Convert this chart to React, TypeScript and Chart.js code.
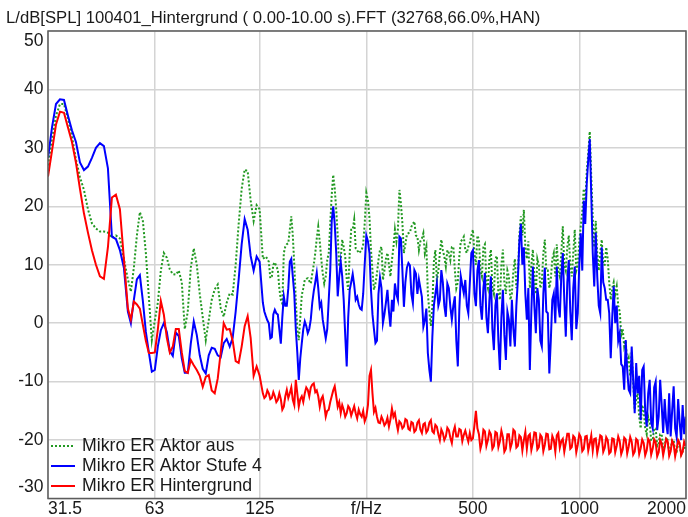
import React, { useEffect, useRef } from 'react';
import { Chart, registerables } from 'chart.js';

Chart.register(...registerables);

const TITLE = 'L/dB[SPL] 100401_Hintergrund ( 0.00-10.00 s).FFT (32768,66.0%,HAN)';
const SERIES_NAMES = ['Mikro ER Aktor aus', 'Mikro ER Aktor Stufe 4', 'Mikro ER Hintergrund'];
const SERIES_COLORS = ['#229922', '#0000ff', '#ff0000'];

const X_TICKS = [31.5, 63, 125, 250, 500, 1000, 2000];
const X_TICK_LABELS = ['31.5', '63', '125', 'f/Hz', '500', '1000', '2000'];
const Y_TICKS = [50, 40, 30, 20, 10, 0, -10, -20, -30];

// frequency (Hz)
const FREQ_HZ = [
  31.5, 32.33, 33.18, 34.05, 34.95, 35.87, 36.81, 37.78, 38.78, 39.8, 40.85, 41.92, 43.03, 44.16, 45.32, 46.52, 47.74, 49.0, 50.29, 51.61, 52.97,
  54.01, 55.07, 56.16, 57.26, 58.39, 59.54, 60.71, 61.9, 63.12, 64.36, 65.63, 66.92, 68.24, 69.58, 70.95, 72.35, 73.77, 75.22, 76.7, 78.21,
  79.75, 81.32, 82.92, 84.55, 86.21, 87.91, 89.64, 91.4, 93.2, 95.03, 96.9, 98.81, 100.75, 102.73, 104.75, 106.81, 108.91, 111.05, 113.24, 115.47,
  117.74, 120.05, 122.41, 124.82,
  127.46, 128.71, 129.97, 131.24, 132.52, 133.82, 135.13, 136.45, 137.79, 139.14,
  140.5, 141.88, 143.27, 144.67, 146.09, 147.52, 148.96, 150.42, 151.89, 153.38,
  154.88, 156.4, 157.93, 159.48, 161.04, 162.62, 164.21, 165.82, 167.44, 169.08,
  170.73, 172.4, 174.09, 175.79, 177.52, 179.26, 181.01, 182.78, 184.57, 186.38,
  188.2, 190.04, 191.91, 193.79, 195.68, 197.6, 199.53, 201.48, 203.46, 205.45,
  207.46, 209.49, 211.55, 213.62, 215.71, 217.82, 219.96, 222.11, 224.28, 226.48,
  228.7, 230.94, 233.2, 235.48, 237.79, 240.12, 242.47, 244.84, 247.24, 249.9,
  252.6, 255.1, 257.6, 260.1, 262.6, 265.2, 267.8, 270.4, 273.1, 275.8,
  278.4, 281.1, 283.9, 286.7, 289.5, 292.3, 295.2, 298.1, 301.0, 303.9,
  306.9, 309.9, 312.9, 316.0, 319.1, 322.2, 325.4, 328.6, 331.8, 335.0,
  338.3, 341.6, 345.0, 348.4, 351.8, 355.2, 358.7, 362.2, 365.7, 369.3,
  372.9, 376.6, 380.3, 384.0, 387.8, 391.6, 395.4, 399.3, 403.2, 407.1,
  411.1, 415.1, 419.2, 423.3, 427.5, 431.7, 435.9, 440.2, 444.5, 448.8,
  453.2, 457.6, 462.1, 466.6, 471.2, 475.8, 480.5, 485.2, 489.9, 494.9,
  500, 504.9, 509.8, 514.8, 519.9, 525.0, 530.1, 535.3, 540.5, 545.8,
  551.2, 556.6, 562.0, 567.5, 573.1, 578.7, 584.4, 590.1, 595.9, 601.7,
  607.6, 613.5, 619.6, 625.7, 631.8, 638.0, 644.2, 650.5, 656.9, 663.3,
  669.8, 676.4, 683.0, 689.7, 696.4, 703.2, 710.1, 717.1, 724.1, 731.2,
  738.4, 745.6, 752.9, 760.3, 767.7, 775.2, 782.8, 790.5, 798.2, 806.0,
  813.9, 821.9, 829.9, 838.0, 846.3, 854.6, 862.9, 871.3, 879.9, 888.5,
  897.2, 906.0, 914.9, 923.9, 932.9, 942.0, 951.2, 960.5, 969.9, 979.4,
  989.0, 998.7, 1008.5, 1018.4, 1028.4, 1038.5, 1048.6, 1058.9, 1069.3, 1079.8,
  1090.3, 1101.0, 1111.8, 1122.7, 1133.7, 1144.8, 1156.0, 1167.3, 1178.7, 1190.2,
  1201.9, 1213.7, 1225.6, 1237.6, 1249.7, 1261.9, 1274.3, 1286.8, 1299.4, 1312.1,
  1325.0, 1338.0, 1351.0, 1364.2, 1377.6, 1391.1, 1404.7, 1418.5, 1432.4, 1446.4,
  1460.6, 1474.9, 1489.4, 1504.0, 1518.7, 1533.6, 1548.6, 1563.8, 1579.1, 1594.6,
  1610.2, 1626.0, 1641.9, 1658.0, 1674.2, 1690.6, 1707.2, 1723.9, 1740.8, 1757.8,
  1775.1, 1792.5, 1810.0, 1827.7, 1845.7, 1863.8, 1882.0, 1900.4, 1919.1, 1937.9,
  1956.9, 1976.1, 1995.4,
];

// L/dB — Mikro ER Aktor aus (green, dotted)
const AKTOR_AUS = [
  27, 31.5, 35.5, 37.5, 37.5, 35, 32, 28, 25, 22.8, 19.5, 17.1, 16.2, 15.7, 15.7, 15.5, 14.6, 15, 14.5, 11, 7.5,
  5.4, 9.5, 15, 19, 17.5, 12, 4.5, -2.9, 0.5, 3.5, 9, 12, 11.2, 9.2, 8.4, 8.3, 9, 7, -1, 2,
  9.5, 12.8, 10, 5, 1, -2.9, 0.5, 4, 5.8, 6.6, 2.6, 1.1, 3.5, 5.1, 4.9, 10, 17, 23, 26.3, 26,
  21, 17.5, 20.2, 19.5,
  11, 11.2, 11.4, 11, 10.5, 7.7, 8, 10, 10.4, 9.7,
  9.2, 6, 4, 3.4, 12, 13.1, 13.5, 13.7, 16, 18.3,
  15, 10, 4, -1, -2.9, 1, 4.8, 6, 7.4, 7.6,
  7.7, 7.2, 6.8, 8.5, 10, 12, 14.5, 16.5, 14, 11,
  8.5, 6.8, 8, 10.8, 12, 17, 22, 25.4, 23, 19.4,
  15, 9.7, 11, 14.3, 13, 11.4, 7.5, 5.7, 12, 16,
  16, 17.7, 12.8, 12.5, 12, 12.2, 12.5, 13.5, 17, 22.3,
  21, 18, 12.5, 9, 5.7, 6.8, 8.5, 10.8, 12.5, 13.1,
  7.4, 9, 11, 12, 10, 8, 10.8, 13, 16, 14,
  16, 22.8, 20.5, 17.1, 12, 13.5, 15.2, 15.4, 15.5, 16.5,
  17, 17.4, 15, 14.8, 12.5, 14, 14.5, 15.4, 12, 13.1,
  5.1, 2, -0.5, 3, 10.5, 12.5, 7.4, 9, 12, 14.3,
  12.5, 11.4, 9.7, 12.5, 12, 10.8, 13, 13.1, 9.1, 6,
  7, 11.4, 14, 14.3, 14.8, 12.5, 12, 13.1, 13.7, 15,
  16, 12, 10, 15, 14.3, 9, 8, 13, 13.5, 7,
  6, 11, 12.6, 6, 5, 11, 11.5, 5, 4, 10,
  12.6, 7, 5, 9, 8, 4, 5.1, 9, 11, 6,
  8, 15, 18.3, 15, 19.4, 13, 11, 14, 6, 10,
  12.6, 8, 5, 11, 10, 6, 7, 12, 14.3, 9,
  9, 6, 7.5, 11, 12, 8, 13.5, 9, 8, 12,
  16.6, 10, 9, 13, 15, 10, 8, 12, 16, 9,
  10, 14, 16.6, 19, 23, 20, 26, 29, 32.8, 25,
  18, 13, 17.5, 12, 9, 12, 14.3, 10, 10, 13,
  11, 7, 4, 6, 7, 5, 6.3, 3, 2, -2,
  -1, -4, -3, -7, -6, -9, -5, -10, -14.8, -13,
  -12, -16, -18, -14, -15, -18, -19, -16, -17, -20,
  -20, -18, -18, -21, -20.5, -19, -19, -21.5, -21, -19.5,
  -20, -22, -21.5, -20, -20, -22, -22, -20.5, -21, -22.5,
  -22, -21, -21.5,
];

// L/dB — Mikro ER Aktor Stufe 4 (blue)
const AKTOR_STUFE4 = [
  28.3, 33.5, 37.5, 38.3, 38.2, 35.5, 33, 31, 27.5, 26.2, 26.8, 28.3, 30, 30.8, 30.3, 26.5, 14.8, 14.4, 12.5, 9.5, 2,
  0, 4, 7.5, 8.2, 3.8, -1.5, -5, -8.3, -8, -4, -1.2, 0, -1.5, -4.8, -5.6, -1.6, -2.2, -6, -8.5, -8.5,
  -3.5, 0.3, -2, -5.5, -7.8, -8.6, -5.5, -4.2, -4.4, -5.5, -5.8, -3.4, -2.7, -4, -2.5, 2, 7.5, 13.5, 17.8, 16,
  11.5, 9, 11.4, 10.5,
  3.5, 2, 1.2, 0.5, 0, -2.6, -2.4, 1.5, 2.3, 1.7,
  1.5, -1, -3.5, 1, 4.6, 3, 3, 6, 10.5, 11,
  8, 5, -1, -5, -9.7, -6, -3.4, -1, 0.3, -0.5,
  -1.7, -1, 0.6, 3.5, 5.5, 7, 8.6, 6, 2.8, 3.5,
  0.6, -1, -2.6, -1, 4, 9, 17.5, 20, 17, 12,
  4.6, 8, 10.5, 8, 4, -2, -7.4, 1, 5.7, 7,
  8.4, 6.5, 4, 4.5, 3.2, 2.5, 2.3, 5, 10, 15,
  14, 12, 5.7, 1.5, -1, -3.4, -3, 5, 7.8, 6,
  0, 1.5, 3.5, 5.7, 2, -0.6, 4, 2, 6.8, 5,
  4, 14.8, 14.5, 9, 2.8, 7, 9.5, 10.3, 9.9, 5,
  3.4, 9.1, 8.5, 5, 7.5, 6, 4.5, -0.6, 0.5, 2.5,
  -5.1, -8, -10, -2.3, 3, 5, 6.8, 3, 4, 9.1,
  7, 3, 1.1, 6.8, 6, 2.8, 0.6, 3, 4.6, -3,
  -7.4, 2.3, 8, 6.5, 5.1, 7.4, 3, 1.7, 6.8, 12,
  12.5, 5, 2.9, 9, 10.8, 3, 0.6, 6, 8.6, 1,
  -1.7, 4, 8, -1, -4.6, 3, 5.1, -3, -8, 1,
  5.7, -2, -6.3, 2, 0.6, -4, 4, -1, -4, 3,
  7.4, 14, 17, 10, 13, 5, 0.6, 6, -8, 2,
  9.7, 3, -1.7, 6, 4, -3, -4, 5, 9.5, 2,
  1.7, -8.6, -3, 4, 5.1, 0, 9.7, 3, 1, 8,
  12, 4, -2.3, 7, 10.8, 2, -2.9, 6, 9.7, -1,
  1.7, 10, 15.4, 9, 21, 17, 24, 28, 31.5, 22,
  12, 6.3, 15.5, 8, 3, 1.7, 13, 7, 6, 4,
  4, 1.7, -6, 1, 6.3, 0, 3, -3, -1.7, -7,
  -7.4, -11.4, -2.9, -8, -11.4, -12, -4, -9.7, -15.4, -6.8,
  -12, -9, -16.6, -8, -7.4, -15, -17.7, -12, -9.7, -17,
  -18, -11, -10, -18.3, -16, -9.7, -14, -18.8, -13, -17,
  -19, -12, -19.4, -15, -10.8, -18, -19.5, -13, -17, -20,
  -14, -19, -16,
];

// L/dB — Mikro ER Hintergrund (red)
const HINTERGRUND = [
  25.1, 29.5, 34, 36.2, 36, 33.5, 31, 27.5, 23, 18.8, 15.5, 12.5, 10, 8, 7.6, 13, 21.5, 22, 19.5, 11, 2.5,
  0.6, 3.7, 3.2, 2.5, -0.3, -3, -5.1, -5.1, -5, -1.1, 3.8, 1.5, -2.5, -5, -4, -1, -1, -5, -8.2, -8.5,
  -6.3, -7.2, -8, -9, -10.9, -9.2, -8.9, -11.5, -12, -9.5, -5, 0, -1.1, -1, -3, -6.5, -6.8, -4, -0.5, 1.2,
  -2.5, -9, -7.4, -9,
  -12, -12.8, -12.5, -11.5, -12, -13, -12.8, -11.8, -12.5, -13.5,
  -13.1, -12, -13, -14.8, -14.3, -12.5, -11.4, -12.8, -12, -11,
  -13.1, -14, -9.7, -12, -14.3, -13, -12.5, -13.5, -12, -11,
  -11.4, -12.5, -11, -10.5, -10.3, -11.8, -11.5, -12.5, -14.3, -13,
  -12.5, -14, -16, -15, -14.8, -13.5, -12.5, -11.5, -10.8, -12.5,
  -14.3, -13.5, -15.4, -14, -14.8, -16, -15.4, -14.2, -14.6, -15.8,
  -15, -14.2, -15.4, -16.3, -14.8, -15.6, -16, -15, -16.8, -16,
  -14, -9, -8, -12, -15.2, -14.5, -16, -17, -17.1, -16,
  -16.6, -17.5, -17.1, -16.2, -17.7, -16.5, -14.6, -16, -15.4, -17,
  -18.3, -16.8, -17.1, -18, -17.7, -16.4, -16.6, -18.1, -18.3, -16.9,
  -17.1, -18.6, -18.3, -17, -16.6, -18.2, -18.8, -17.3, -17.1, -18.7,
  -18.3, -17, -16.6, -18.5, -18.8, -17.4, -17.7, -19, -20, -18.2,
  -18.8, -20, -19.4, -17.9, -18.3, -19.6, -20.5, -18.6, -17.7, -19.4,
  -19.4, -18.1, -18.3, -20.2, -19.1, -18.4, -19.4, -20.3, -18.8, -20,
  -19.7, -17.5, -15, -18, -19, -21.5, -20.5, -18.2, -18.5, -21,
  -20, -18.5, -19, -21.5, -21, -18.6, -18.8, -21.2, -20.2, -18.4,
  -19.5, -22, -21.5, -19, -19, -21.4, -20.5, -18.2, -18.5, -21.3,
  -21, -19.2, -19.5, -21.8, -20, -18.6, -21.5, -19.3, -19, -21.7,
  -20.5, -18.7, -18.8, -21.6, -21.2, -19.1, -19.5, -21.9, -20.8, -18.9,
  -19, -21.6, -21.5, -19.3, -20, -22, -19.2, -18.8, -21.3, -20.2,
  -19.8, -22, -20.5, -18.9, -18.9, -21.5, -21.2, -19.3, -19.6, -22.1,
  -20.8, -19, -19.5, -21.9, -21.5, -19.4, -19.3, -21.8, -20.6, -19.2,
  -21.8, -19.8, -19.7, -22.2, -20.9, -19.2, -19.4, -22, -21.3, -19.5,
  -20, -22.3, -22, -19.7, -19.8, -22.1, -21, -19.4, -20.2, -22.4,
  -21.6, -19.6, -19.9, -22.3, -21.1, -19.5, -20.3, -22.5, -22, -19.8,
  -20.1, -22.4, -21.4, -19.9, -20.5, -22.6, -21.8, -19.8, -20.2, -22.5,
  -21.5, -19.9, -20.4, -22.8, -22.1, -20, -20.6, -22.6, -21.3, -19.8,
  -20.2, -22.7, -21.9, -20.1, -20.7, -22.8, -21.5, -20, -20.5, -22.6,
  -22, -20.3, -21,
];

const FONT = '"Liberation Sans", Arial, Helvetica, sans-serif';
const TEXT_COLOR = '#1a1a1a';
const GRID_COLOR = '#d4d4d4';

export default function App() {
  const ref = useRef<HTMLCanvasElement>(null);

  useEffect(() => {
    const canvas = ref.current;
    if (!canvas) return;
    const toPts = (vals: number[], name: string) => {
      if (vals.length !== FREQ_HZ.length) {
        throw new Error(`${name}: ${vals.length} values for ${FREQ_HZ.length} frequencies`);
      }
      return FREQ_HZ.map((f, i) => ({ x: f, y: vals[i] }));
    };

    const decor = {
      id: 'decor',
      afterDraw(chart: any) {
        const { ctx, chartArea: a, scales } = chart;
        const ys = scales.y;
        ctx.save();
        ctx.strokeStyle = '#5c5c5c';
        ctx.lineWidth = 1.5;
        ctx.strokeRect(a.left, a.top, a.right - a.left, a.bottom - a.top);
        ctx.fillStyle = TEXT_COLOR;
        ctx.font = `17.5px ${FONT}`;
        ctx.textAlign = 'right';
        ctx.textBaseline = 'middle';
        Y_TICKS.forEach((v) => {
          let py = ys.getPixelForValue(v);
          py = Math.min(Math.max(py, a.top + 10), a.bottom - 11);
          ctx.fillText(String(v), a.left - 4.5, py);
        });
        ctx.textAlign = 'left';
        ctx.textBaseline = 'alphabetic';
        ctx.font = `16.7px ${FONT}`;
        ctx.fillText(TITLE, 6, 22.5);
        const rows = [446, 466, 486];
        ctx.font = `17.7px ${FONT}`;
        ctx.textBaseline = 'middle';
        SERIES_NAMES.forEach((name, i) => {
          const y = rows[i];
          ctx.beginPath();
          ctx.strokeStyle = SERIES_COLORS[i];
          ctx.lineWidth = 2;
          ctx.setLineDash(i === 0 ? [2, 2] : []);
          ctx.moveTo(51, y);
          ctx.lineTo(75, y);
          ctx.stroke();
          ctx.setLineDash([]);
          ctx.fillStyle = TEXT_COLOR;
          ctx.fillText(name, 82, y);
        });
        ctx.restore();
      },
    };

    const chart = new Chart(canvas, {
      type: 'line',
      data: {
        datasets: [
          {
            label: SERIES_NAMES[0],
            data: toPts(AKTOR_AUS, 'AKTOR_AUS'),
            borderColor: SERIES_COLORS[0],
            borderWidth: 2,
            borderDash: [2, 2],
            pointRadius: 0,
            fill: false,
            tension: 0,
            order: 3,
          },
          {
            label: SERIES_NAMES[1],
            data: toPts(AKTOR_STUFE4, 'AKTOR_STUFE4'),
            borderColor: SERIES_COLORS[1],
            borderWidth: 2,
            pointRadius: 0,
            fill: false,
            tension: 0,
            order: 2,
          },
          {
            label: SERIES_NAMES[2],
            data: toPts(HINTERGRUND, 'HINTERGRUND'),
            borderColor: SERIES_COLORS[2],
            borderWidth: 2,
            pointRadius: 0,
            fill: false,
            tension: 0,
            order: 1,
          },
        ],
      },
      options: {
        responsive: false,
        animation: false,
        devicePixelRatio: 1,
        layout: { padding: { top: 31, right: 1, left: 0, bottom: 0 } },
        plugins: {
          legend: { display: false },
          title: { display: false },
          tooltip: { enabled: false },
        },
        scales: {
          x: {
            type: 'logarithmic',
            min: 31.5,
            max: 2000,
            afterBuildTicks: (s: any) => {
              s.ticks = X_TICKS.map((v) => ({ value: v }));
            },
            afterFit: (s: any) => {
              s.height = 18.5;
            },
            ticks: {
              autoSkip: false,
              maxRotation: 0,
              align: 'inner',
              padding: 2,
              color: TEXT_COLOR,
              font: { family: FONT, size: 17.5, lineHeight: 1 },
              callback: (v: any) => {
                const i = X_TICKS.indexOf(Number(v));
                return i >= 0 ? X_TICK_LABELS[i] : '';
              },
            },
            grid: { color: GRID_COLOR, lineWidth: 1.5, drawTicks: false },
            border: { display: false },
          },
          y: {
            type: 'linear',
            min: -30,
            max: 50,
            afterBuildTicks: (s: any) => {
              s.ticks = Y_TICKS.map((v) => ({ value: v }));
            },
            afterFit: (s: any) => {
              s.width = 48;
            },
            ticks: { display: false },
            grid: { color: GRID_COLOR, lineWidth: 1.5, drawTicks: false },
            border: { display: false },
          },
        },
      } as any,
      plugins: [decor],
    });

    return () => chart.destroy();
  }, []);

  return (
    <div style={{ position: 'fixed', left: 0, top: 0, width: 688, height: 517, background: '#fff' }}>
      <canvas ref={ref} width={688} height={517} style={{ display: 'block' }} />
    </div>
  );
}
